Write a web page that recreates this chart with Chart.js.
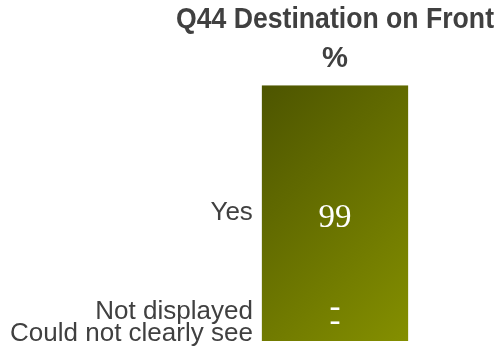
<!DOCTYPE html>
<html>
<head>
<meta charset="utf-8">
<script src="https://cdn.jsdelivr.net/npm/chart.js@4.4.0/dist/chart.umd.min.js"></script>
<style>
  html, body { margin: 0; padding: 0; background: #fff; }
  #wrap { width: 494px; height: 353px; }
</style>
</head>
<body>
<div id="wrap"><canvas id="chart"></canvas></div>
<script>
const titleLines = ['Q44 Destination on Front', '%']
// stacked bottom to top
const categories = ['Could not clearly see', 'Not displayed', 'Yes']
const percents = [0, 0, 99]
const valueLabels = ['-', '-', '99']

const textGrey = '#404040'
const BAR_PCT = 0.46

function barGradient(context) {
    let chart = context.chart
    let area = chart.chartArea
    if (!area) return '#6b7400'
    let w = (area.right - area.left) * BAR_PCT
    let left = (area.left + area.right) / 2 - w / 2
    let d = (w + (area.bottom - area.top)) / 2
    let g = chart.ctx.createLinearGradient(left, area.top, left + d, area.top + d)
    g.addColorStop(0, '#4d5500')
    g.addColorStop(1, '#848f00')
    return g
}

// category names on the left, values inside the bar
const barLabels = {
    id: 'barLabels',
    afterDatasetsDraw(chart) {
        let ctx = chart.ctx
        let area = chart.chartArea
        let items = chart.data.datasets.map(function (ds, i) {
            let bar = chart.getDatasetMeta(i).data[0]
            return { name: categories[i], value: valueLabels[i], mid: (bar.y + bar.base) / 2, bar: bar }
        })

        // push labels apart, working up from the bottom
        let nameLimit = area.bottom - 7
        let valueLimit = area.bottom - 24
        items.slice().sort(function (a, b) { return b.mid - a.mid }).forEach(function (it) {
            it.nameY = Math.min(it.mid, nameLimit)
            nameLimit = it.nameY - 22
            it.valueY = Math.min(it.mid, valueLimit)
            valueLimit = it.valueY - 14
        })

        ctx.save()
        ctx.textBaseline = 'middle'
        items.forEach(function (it) {
            let bar = it.bar
            ctx.font = '26px "Liberation Sans", Arial, sans-serif'
            ctx.fillStyle = textGrey
            ctx.textAlign = 'right'
            ctx.fillText(it.name, bar.x - bar.width / 2 - 9, it.nameY)

            ctx.font = '33px "Liberation Serif", "Times New Roman", serif'
            ctx.fillStyle = '#ffffff'
            ctx.textAlign = 'center'
            ctx.fillText(it.value, bar.x, it.valueY + 5)
        })
        ctx.restore()
    }
}

let ctx = document.getElementById('chart').getContext('2d')

let chart = new Chart(ctx, {
    type: 'bar',
    data: {
        labels: [''],
        datasets: categories.map(function (name, i) {
            return {
                label: name,
                data: [percents[i]],
                backgroundColor: barGradient,
                borderWidth: 0,
                categoryPercentage: 1,
                barPercentage: BAR_PCT
            }
        })
    },
    options: {
        responsive: true,
        maintainAspectRatio: false,
        animation: false,
        layout: {
            padding: { left: 176, right: 0, top: 0, bottom: 12 }
        },
        scales: {
            x: { stacked: true, display: false },
            y: {
                stacked: true,
                display: false,
                min: 0,
                max: percents.reduce(function (a, b) { return a + b }, 0)
            }
        },
        plugins: {
            legend: { display: false },
            tooltip: { enabled: false },
            title: {
                display: true,
                text: titleLines,
                color: textGrey,
                font: { family: '"Liberation Sans Narrow", "Arial Narrow", "Liberation Sans", Arial, sans-serif', size: 29.2, weight: 'bold', lineHeight: 1.34 },
                padding: { top: 0, bottom: 7 }
            }
        }
    },
    plugins: [barLabels]
})
</script>
</body>
</html>
